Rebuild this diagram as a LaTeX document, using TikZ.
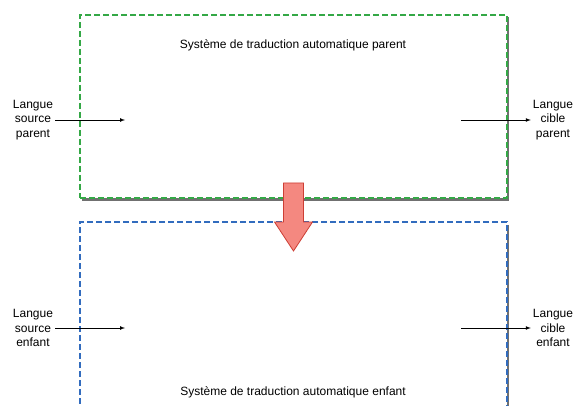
\documentclass[tikz,border=0pt]{standalone}
\usepackage{fontspec}
\setmainfont{Liberation Sans}
\usepackage{xcolor}
\usepackage{tikz}
\usetikzlibrary{calc,shapes,positioning,shadows}
\usetikzlibrary{arrows}

\definecolor{boxgreen}{RGB}{52,168,70}
\definecolor{boxblue}{RGB}{50,108,190}
\definecolor{arrowfill}{RGB}{244,136,128}
\definecolor{arrowdraw}{RGB}{205,62,52}

\begin{document}
\begin{tikzpicture}[x=1pt, y=1pt, font=\fontsize{12}{14.5}\selectfont]
      \useasboundingbox (0,0) rectangle (573,405);
      \tikzstyle{sysbox} = [line width=1.3pt, dash pattern=on 6pt off 3pt, fill=white, minimum width=427pt, inner sep=0pt,
        drop shadow={shadow xshift=1.5pt, shadow yshift=-2.5pt, fill=black!80, opacity=0.7}]
      \tikzstyle{lnode} = [align=center, inner sep = 2pt]
      \tikzstyle{flow} = [-latex, line width=0.7pt]
      \tikzstyle{transfer} = [line width=0.8pt, draw=arrowdraw, fill=arrowfill]

      \node[sysbox, draw=boxgreen, minimum height=183pt] (parent) at (293.5, 298.5) {};
      \node[sysbox, draw=boxblue, minimum height=185pt] (enfant) at (293.5, 90.5) {};

      \node (tparent) at (293, 360) {Système de traduction automatique parent};
      \node (tenfant) at (293, 13) {Système de traduction automatique enfant};

      \node[lnode] (srcp) at (33, 285) {Langue\\source\\parent};
      \node[lnode] (tgtp) at (553, 285) {Langue\\cible\\parent};
      \node[lnode] (srce) at (33, 77) {Langue\\source\\enfant};
      \node[lnode] (tgte) at (553, 77) {Langue\\cible\\enfant};

      \coordinate (inp) at (125, 285);
      \coordinate (outp) at (461, 285);
      \coordinate (ine) at (125, 77);
      \coordinate (oute) at (461, 77);
      % connections

      \draw[flow] (srcp) -- (inp);
      \draw[flow] (outp) -- (tgtp);
      \draw[flow] (srce) -- (ine);
      \draw[flow] (oute) -- (tgte);

      % transfer parent -> enfant
      \draw[transfer] (283.5, 222) -- (303.5, 222) -- (303.5, 183) -- (312.5, 183)
        -- (293.5, 154) -- (274.5, 183) -- (283.5, 183) -- cycle;
\end{tikzpicture}
\end{document}
